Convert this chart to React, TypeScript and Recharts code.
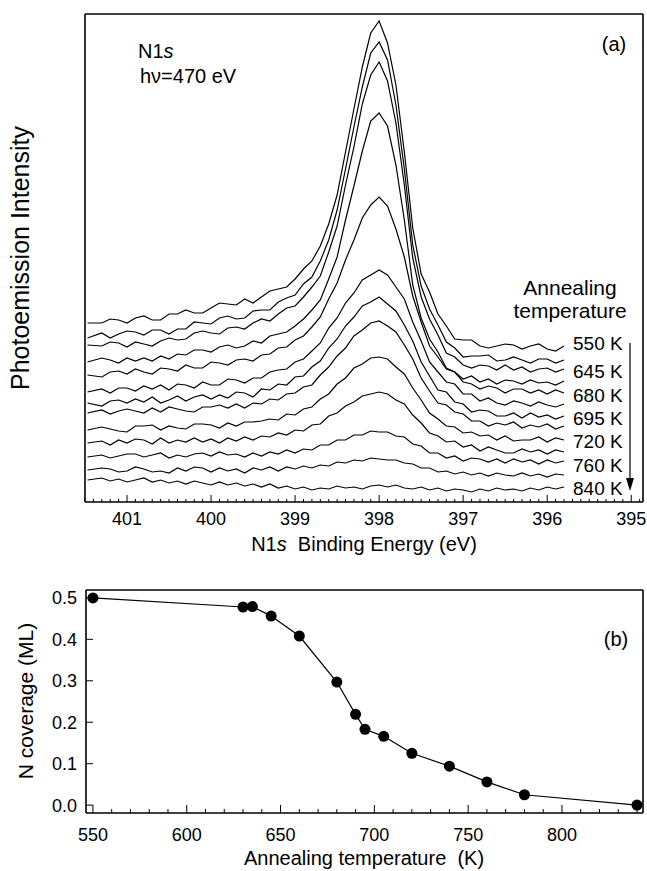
import { LineChart, Line, XAxis, YAxis } from "recharts";

const FONT = '"Liberation Sans", Arial, Helvetica, sans-serif';

// binding energy grid (eV), high to low
const energies = [
  401.47, 401.3, 401.2, 401.1, 401.0, 400.9, 400.8, 400.7, 400.6, 400.5,
  400.4, 400.3, 400.2, 400.1, 400.0, 399.9, 399.8, 399.7, 399.6, 399.5,
  399.4, 399.3, 399.2, 399.1, 399.0, 398.9, 398.8, 398.7, 398.6, 398.5,
  398.4, 398.3, 398.2, 398.1, 398.0, 397.9, 397.8, 397.7, 397.6, 397.5,
  397.4, 397.3, 397.2, 397.1, 397.0, 396.9, 396.8, 396.7, 396.6, 396.5,
  396.4, 396.3, 396.2, 396.1, 396.0, 395.9, 395.8,
];

// offset spectra, arbitrary units (stacked as in the figure)
const s550 = [179,179,183,182,179,184,186,182,182,188,188,192,189,189,194,199,198,197,203,199,205,211,213,215,223,233,241,256,278,307,350,393,435,469,481,459,417,350,274,228,210,188,176,163,162,162,156,154,156,158,157,153,156,158,153,151,156];
const s630 = [164,169,164,168,171,170,167,172,172,168,173,173,180,179,178,184,186,183,184,191,192,192,200,204,207,218,225,241,262,292,333,375,415,449,460,442,397,333,257,216,193,177,160,154,145,146,146,147,141,142,145,142,139,143,143,139,142];
const s645 = [157,156,160,159,155,160,158,156,161,164,162,163,169,171,169,168,174,175,173,179,183,181,188,194,196,205,215,226,250,276,317,355,398,427,440,421,379,317,244,205,183,167,149,145,137,134,137,136,132,137,132,135,130,133,134,130,133];
const s660 = [140,144,142,139,144,141,144,141,146,143,148,147,152,152,150,155,157,154,156,161,159,166,168,170,176,183,192,202,223,245,282,316,351,381,389,376,337,282,217,184,163,150,134,130,123,126,120,123,118,122,121,118,122,119,120,117,121];
const s680 = [127,125,130,131,128,133,130,128,134,133,131,137,134,134,140,139,137,142,143,141,147,148,154,155,162,166,175,185,203,219,242,262,284,297,305,296,273,245,206,180,156,145,133,130,120,118,113,116,114,109,113,113,109,112,108,112,109];
const s690 = [110,113,109,114,114,111,116,113,117,112,118,117,114,120,117,117,123,122,119,124,124,130,132,133,140,143,151,159,174,184,199,209,222,227,232,227,215,203,180,161,140,130,120,118,108,108,101,104,99,97,101,99,96,100,97,95,98];
const s695 = [99,96,101,102,99,103,100,105,99,102,106,101,105,107,103,107,104,110,109,105,113,112,118,117,125,126,135,141,154,163,176,185,196,200,205,198,191,177,161,140,126,112,110,100,98,90,92,91,86,86,89,84,89,85,87,83,86];
const s705 = [89,92,88,91,93,91,89,94,90,95,93,91,90,95,95,97,94,98,94,99,98,103,102,108,109,115,117,127,135,146,154,166,172,179,181,176,170,157,143,124,111,99,97,90,88,81,81,76,79,77,80,74,77,75,78,73,76];
const s720 = [72,75,73,71,70,76,76,77,72,76,74,73,78,78,77,74,79,76,80,80,81,83,82,88,87,93,95,103,108,118,124,134,138,144,145,143,135,128,114,102,89,83,76,75,69,70,66,67,62,66,61,62,62,65,60,64,62];
const s740 = [59,61,57,62,59,63,62,58,64,59,62,60,64,60,63,59,64,61,65,62,66,65,69,67,72,71,77,78,86,89,96,100,106,108,110,108,102,98,87,79,69,66,60,61,55,57,51,55,52,49,49,53,50,52,48,52,50];
const s760 = [45,47,44,46,48,48,45,47,49,44,47,45,48,49,46,50,47,48,45,49,46,50,48,52,49,53,52,57,57,62,62,67,67,71,70,70,66,65,58,56,49,49,44,46,41,44,43,40,43,39,43,40,42,38,42,39,41];
const s780 = [32,34,33,30,31,35,33,30,31,29,34,31,35,34,30,34,31,33,29,34,32,35,31,35,33,36,34,37,36,40,39,42,41,44,43,42,42,39,38,34,34,30,31,28,30,27,29,26,29,27,26,29,26,28,25,28,27];
const s840 = [22,24,21,23,20,22,24,20,22,19,21,18,21,19,17,20,17,19,16,18,15,18,14,16,13,15,12,14,13,16,14,15,13,16,17,15,17,14,13,15,12,14,11,13,12,10,13,11,14,12,13,11,14,12,15,13,15];

const spectra = [s550, s630, s645, s660, s680, s690, s695, s705, s720, s740, s760, s780, s840];

const spectraData = energies.map((e, i) => {
  const row: Record<string, number> = { e };
  spectra.forEach((s, k) => {
    row["c" + k] = s[i];
  });
  return row;
});

const spectrumLabels = ["550 K", "645 K", "680 K", "695 K", "720 K", "760 K", "840 K"];
const energyTicks = [401, 400, 399, 398, 397, 396, 395];

// panel (b)
const annealT = [550, 630, 635, 645, 660, 680, 690, 695, 705, 720, 740, 760, 780, 840];
const coverage = [0.5, 0.478, 0.479, 0.456, 0.408, 0.297, 0.219, 0.183, 0.166, 0.125, 0.094, 0.056, 0.025, 0.0];
const tempTicks = [550, 600, 650, 700, 750, 800];
const coverageTicks = [0, 0.1, 0.2, 0.3, 0.4, 0.5];

const coverageData = annealT.map((t, i) => ({ t, c: coverage[i] }));

const E_DOMAIN: [number, number] = [394.86, 401.5];
const T_DOMAIN: [number, number] = [546.3, 843.2];

// minor ticks every 0.1 eV / 10 K, majors from the lists above
const eAllTicks: number[] = [];
for (let k = 3949; k <= 4015; k++) eAllTicks.push(k / 10);
const tAllTicks: number[] = [];
for (let t = 550; t <= 840; t += 10) tAllTicks.push(t);

const near = (list: number[], v: number) => list.some((m) => Math.abs(m - v) < 1e-6);

const axisLine = { stroke: "#000", strokeWidth: 1.6 };

function EnergyTick(props: any) {
  const { x, y, payload } = props;
  const major = near(energyTicks, payload.value);
  return (
    <g>
      <line x1={x} x2={x} y1={y} y2={y - (major ? 7 : 3)} stroke="#000" strokeWidth={1} />
      {major && (
        <text x={x} y={y + 23} textAnchor="middle" fontSize={18} fontFamily={FONT} fill="#000">
          {Math.round(payload.value)}
        </text>
      )}
    </g>
  );
}

function TopTick(majors: number[]) {
  return (props: any) => {
    const { x, y, payload } = props;
    const major = near(majors, payload.value);
    return <line x1={x} x2={x} y1={y} y2={y + (major ? 7 : 3)} stroke="#000" strokeWidth={1} />;
  };
}

function TempTick(props: any) {
  const { x, y, payload } = props;
  const major = near(tempTicks, payload.value);
  return (
    <g>
      <line x1={x} x2={x} y1={y} y2={y - (major ? 8 : 4)} stroke="#000" strokeWidth={1} />
      {major && (
        <text x={x} y={y + 28} textAnchor="middle" fontSize={18} fontFamily={FONT} fill="#000">
          {payload.value}
        </text>
      )}
    </g>
  );
}

function CoverageTick(props: any) {
  const { x, y, payload } = props;
  return (
    <g>
      <line x1={x} x2={x + 7} y1={y} y2={y} stroke="#000" strokeWidth={1} />
      <text x={x - 9} y={y + 6.5} textAnchor="end" fontSize={18} fontFamily={FONT} fill="#000">
        {payload.value.toFixed(1)}
      </text>
    </g>
  );
}

const kLabelBaselines = [350, 378, 402, 425, 448, 472, 495];

export default function App() {
  return (
    <div style={{ position: "absolute", left: 0, top: 0, width: 647, height: 871, background: "#fff" }}>
      <div style={{ position: "absolute", left: 0, top: 0 }}>
        <LineChart width={647} height={560} data={spectraData} margin={{ top: 0, right: 0, bottom: 0, left: 0 }}>
          <XAxis
            dataKey="e"
            type="number"
            domain={E_DOMAIN}
            reversed
            allowDataOverflow
            ticks={eAllTicks}
            interval={0}
            tickSize={0}
            tickMargin={0}
            tickLine={false}
            height={58}
            axisLine={axisLine}
            tick={EnergyTick}
          />
          <XAxis
            xAxisId="top"
            orientation="top"
            type="number"
            domain={E_DOMAIN}
            reversed
            allowDataOverflow
            ticks={eAllTicks}
            interval={0}
            tickSize={0}
            tickMargin={0}
            tickLine={false}
            height={14}
            axisLine={axisLine}
            tick={TopTick(energyTicks)}
          />
          <YAxis domain={[0, 488]} allowDataOverflow width={85} tick={false} tickLine={false} axisLine={axisLine} />
          <YAxis yAxisId="r" orientation="right" domain={[0, 1]} width={4} tick={false} tickLine={false} axisLine={axisLine} />
          {spectra.map((_, k) => (
            <Line
              key={k}
              dataKey={"c" + k}
              type="linear"
              stroke="#000"
              strokeWidth={1.2}
              dot={false}
              isAnimationActive={false}
            />
          ))}
        </LineChart>
      </div>

      <div style={{ position: "absolute", left: 0, top: 576 }}>
        <LineChart width={647} height={295} data={coverageData} margin={{ top: 0, right: 0, bottom: 0, left: 0 }}>
          <XAxis
            dataKey="t"
            type="number"
            domain={T_DOMAIN}
            allowDataOverflow
            ticks={tAllTicks}
            interval={0}
            tickSize={0}
            tickMargin={0}
            tickLine={false}
            height={58}
            axisLine={axisLine}
            tick={TempTick}
          />
          <XAxis
            xAxisId="top"
            orientation="top"
            type="number"
            domain={T_DOMAIN}
            allowDataOverflow
            ticks={tAllTicks}
            interval={0}
            tickSize={0}
            tickMargin={0}
            tickLine={false}
            height={14}
            axisLine={axisLine}
            tick={TopTick(tempTicks)}
          />
          <YAxis
            type="number"
            domain={[-0.019, 0.519]}
            allowDataOverflow
            ticks={coverageTicks}
            interval={0}
            tickSize={0}
            tickMargin={0}
            tickLine={false}
            width={86}
            axisLine={axisLine}
            tick={CoverageTick}
          />
          <YAxis yAxisId="r" orientation="right" domain={[0, 1]} width={4} tick={false} tickLine={false} axisLine={axisLine} />
          <Line
            dataKey="c"
            type="linear"
            stroke="#000"
            strokeWidth={1.2}
            dot={{ r: 5.5, fill: "#000", stroke: "#000", strokeWidth: 0 }}
            isAnimationActive={false}
          />
        </LineChart>
      </div>

      <svg
        width={647}
        height={871}
        style={{ position: "absolute", left: 0, top: 0, pointerEvents: "none" }}
        fontFamily={FONT}
        fill="#000"
      >
        <text x={138} y={58} fontSize={20}>
          N1<tspan fontStyle="italic">s</tspan>
        </text>
        <text x={140} y={83} fontSize={20}>
          hν=470 eV
        </text>
        <text x={614} y={51} fontSize={20} textAnchor="middle">
          (a)
        </text>
        <text x={570} y={295} fontSize={21} textAnchor="middle">
          Annealing
        </text>
        <text x={570} y={318} fontSize={21} textAnchor="middle">
          temperature
        </text>
        {spectrumLabels.map((l, i) => (
          <text key={l} x={573} y={kLabelBaselines[i]} fontSize={19}>
            {l}
          </text>
        ))}
        <line x1={630} x2={630} y1={343} y2={480} stroke="#000" strokeWidth={1.2} />
        <path d="M626,478 L634,478 L630,491 Z" fill="#000" />
        <text x={364} y={551} fontSize={20} textAnchor="middle">
          N1<tspan fontStyle="italic">s</tspan>{"\u00a0 "}Binding Energy (eV)
        </text>
        <text transform="translate(29,258) rotate(-90)" fontSize={25} textAnchor="middle">
          Photoemission Intensity
        </text>

        <text x={616} y={646} fontSize={20} textAnchor="middle">
          (b)
        </text>
        <text x={364} y={865} fontSize={20} textAnchor="middle">
          Annealing temperature{"\u00a0 "}(K)
        </text>
        <text transform="translate(33,701) rotate(-90)" fontSize={21} textAnchor="middle">
          N coverage (ML)
        </text>
      </svg>
    </div>
  );
}
